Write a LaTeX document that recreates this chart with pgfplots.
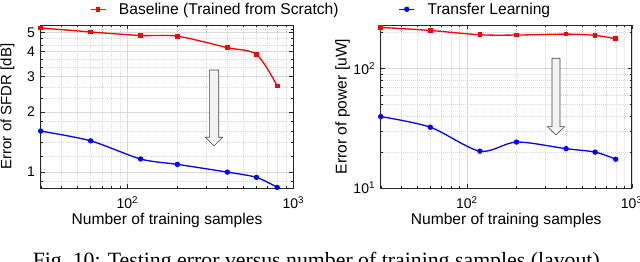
\documentclass[border=0pt]{standalone}
\usepackage{pgfplots}
\pgfplotsset{compat=1.18}
\usepackage{fontspec}
\setmainfont{Liberation Sans}
\newfontfamily\capfont{Liberation Serif}
\definecolor{gridc}{gray}{0.85}
\pgfplotsset{
  myax/.style={
    anchor=south west, scale only axis, height=163pt,
    xmin=30, xmax=1000,
    axis line style={black!85, line width=0.5pt},
    tick align=inside, major tick length=4pt, minor tick length=2pt,
    tick style={black!85, line width=0.4pt},
    grid=both,
    major grid style={gridc, line width=0.4pt},
    minor grid style={gridc, dash pattern=on 1pt off 1pt, line width=0.4pt},
    xtick={100,1000}, xticklabels={10\textsuperscript{2},10\textsuperscript{3}},
    minor xtick={30,40,50,60,70,80,90,200,300,400,500,600,700,800,900},
    tick label style={font=\fontsize{14}{16}\selectfont},
    xticklabel style={inner sep=0pt, yshift=-8pt},
    yticklabel style={inner sep=0pt, xshift=-5.5pt},
    label style={font=\fontsize{15.6}{18}\selectfont, inner sep=0pt},
    xlabel={Number of training samples},
    xlabel style={at={(axis description cs:0.5,0)}, anchor=north, yshift=-24.5pt},
  },
  rline/.style={red, line width=1.3pt, smooth, tension=0.5, mark=square*, mark size=1.7pt, mark options={solid}},
  bline/.style={blue, line width=1.3pt, smooth, tension=0.5, mark=*, mark size=2pt, mark options={solid}},
}
\begin{document}
\begin{tikzpicture}[x=1pt,y=1pt]
\useasboundingbox (0,0) rectangle (640,262);
% left panel
\begin{loglogaxis}[myax, at={(40.7pt,74pt)}, width=252.6pt,
  ymin=0.83, ymax=5.44,
  ytick={1,2,3,4,5}, yticklabels={1,2,3,4,5},
  minor ytick={0.9,1.2,1.4,1.6,1.8,2.333,2.667,3.333,3.667,4.333,4.667,5.2},
  ylabel={Error of SFDR [dB]},
  ylabel style={at={(axis description cs:-0.1033,0.5)}, anchor=south, font=\fontsize{15}{18}\selectfont},
  legend columns=2,
  legend style={draw=none, fill=none, inner sep=0pt, outer sep=0pt,
    at={(axis description cs:0.195,1.0963)}, anchor=west,
    font=\fontsize{15.6}{18}\selectfont,
    nodes={inner sep=0pt},
    /tikz/every odd column/.append style={column sep=12.7pt},
    /tikz/every even column/.append style={column sep=60pt}},
  legend image code/.code={\draw[mark repeat=2,mark phase=2] plot coordinates {(0pt,0pt) (7.5pt,0pt) (15pt,0pt)};},
]
\addplot[rline] coordinates {(30,5.26) (60,5.02) (120,4.82) (200,4.78) (400,4.19) (600,3.87) (800,2.69)};
\addlegendentry{Baseline (Trained from Scratch)}
\addplot[bline] coordinates {(30,1.60) (60,1.43) (120,1.16) (200,1.09) (400,0.997) (600,0.938) (800,0.836)};
\addlegendentry{Transfer Learning}
\end{loglogaxis}
% right panel
\begin{loglogaxis}[myax, at={(380.7pt,74pt)}, width=251pt,
  ymin=10, ymax=230,
  ytick={10,100}, yticklabels={10\textsuperscript{1},10\textsuperscript{2}},
  minor ytick={20,30,40,50,60,70,80,90,200},
  ylabel={Error of power [uW]},
  ylabel style={at={(axis description cs:-0.122,0.5)}, anchor=south},
]
\addplot[rline] coordinates {(30,219.6) (60,207) (120,190.6) (200,189.6) (400,193.1) (600,188.4) (800,176.5)};
\addplot[bline] coordinates {(30,39.5) (60,32.2) (120,20.3) (200,24.2) (400,21.3) (600,19.95) (800,17.4)};
\end{loglogaxis}
% arrows
\draw[fill=gray!10, draw=gray!55!black, line width=0.6pt]
  (209.3,192) -- (218.7,192) -- (218.7,124.7) -- (222.7,124.7) -- (214,116) -- (205.3,124.7) -- (209.3,124.7) -- cycle;
\draw[fill=gray!10, draw=gray!55!black, line width=0.6pt]
  (552,203.7) -- (560,203.7) -- (560,135.3) -- (564.6,135.3) -- (556,127) -- (547.4,135.3) -- (552,135.3) -- cycle;
% caption
\node[font=\capfont\fontsize{21.8}{24}\selectfont, anchor=base, inner sep=0pt] at (319,-5.5) {Fig.~10: Testing error versus number of training samples (layout).};
\end{tikzpicture}
\end{document}
